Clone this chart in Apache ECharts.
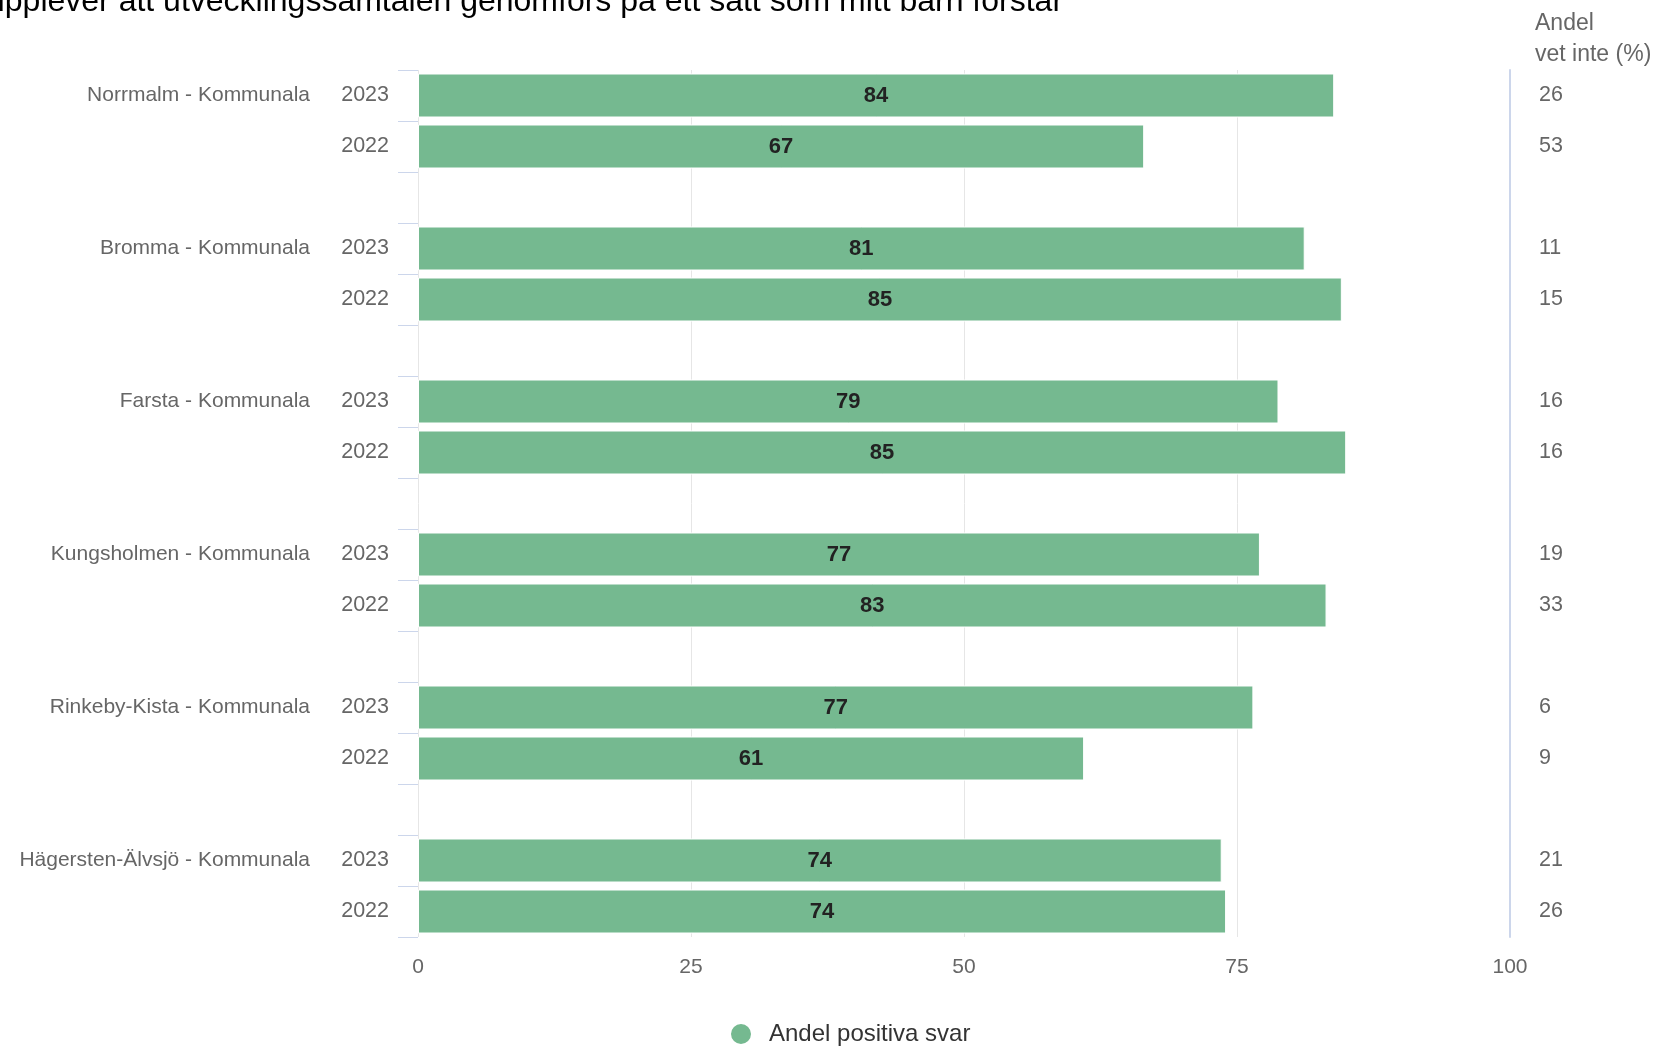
<!DOCTYPE html>
<html>
<head>
<meta charset="utf-8">
<script src="https://cdn.jsdelivr.net/npm/echarts@6/dist/echarts.min.js"></script>
<style>
html,body{margin:0;padding:0;background:#fff;}
#chart{width:1659px;height:1050px;}
</style>
</head>
<body>
<div id="chart"></div>
<script>
const titleText = 'upplever att utvecklingssamtalen genomförs på ett sätt som mitt barn förstår';
const sideHeader = 'Andel\nvet inte (%)';
const seriesName = 'Andel positiva svar';
const groups = ['Norrmalm - Kommunala', 'Bromma - Kommunala', 'Farsta - Kommunala', 'Kungsholmen - Kommunala', 'Rinkeby-Kista - Kommunala', 'Hägersten-Älvsjö - Kommunala'];
const years = ['2023', '2022'];
const positive2023 = [83.9, 81.2, 78.8, 77.1, 76.5, 73.6];
const positive2022 = [66.5, 84.6, 85.0, 83.2, 61.0, 74.0];
const vetInte2023 = [26, 11, 16, 19, 6, 21];
const vetInte2022 = [53, 15, 16, 33, 9, 26];
const xTickLabels = [0, 25, 50, 75, 100];

const rowKeys = [], rowYear = [], rowGroup = [], rowValue = [], rowVet = [];
groups.forEach(function (g, i) {
  years.forEach(function (y, j) {
    rowKeys.push(g + '|' + y);
    rowYear.push(y);
    rowGroup.push(j === 0 ? g : '');
    rowValue.push(j === 0 ? positive2023[i] : positive2022[i]);
    rowVet.push(String(j === 0 ? vetInte2023[i] : vetInte2022[i]));
  });
  if (i < groups.length - 1) {
    rowKeys.push('gap' + i);
    rowYear.push('');
    rowGroup.push('');
    rowValue.push('-');
    rowVet.push('');
  }
});

const FONT = "'Liberation Sans', Arial, Helvetica, sans-serif";
const chart = echarts.init(document.getElementById('chart'), null, {renderer: 'canvas'});
chart.setOption({
  backgroundColor: '#ffffff',
  animation: false,
  textStyle: {fontFamily: FONT},
  title: [
    {text: titleText, left: -13, top: -14, padding: 0,
     textStyle: {fontFamily: FONT, fontSize: 32, fontWeight: 'normal', color: '#000'}},
    {text: sideHeader, left: 1535, top: 8, padding: 0,
     textStyle: {fontFamily: FONT, fontSize: 23, fontWeight: 'normal', color: '#666', lineHeight: 31}}
  ],
  legend: {
    left: 729, top: 1022, padding: 0,
    icon: 'circle', itemWidth: 22, itemHeight: 22,
    textStyle: {fontFamily: FONT, fontSize: 24, color: '#333', padding: [0, 0, 0, 12]},
    data: [seriesName]
  },
  grid: {left: 418, right: 149, top: 70, bottom: 113, containLabel: false},
  xAxis: {
    type: 'value', min: xTickLabels[0], max: xTickLabels[xTickLabels.length - 1],
    interval: xTickLabels[1] - xTickLabels[0],
    axisLine: {show: false}, axisTick: {show: false},
    splitLine: {show: true, lineStyle: {color: '#e6e6e6', width: 1}},
    axisLabel: {fontFamily: FONT, fontSize: 21, color: '#666', margin: 20}
  },
  yAxis: [
    {
      type: 'category', inverse: true, position: 'left', data: rowKeys,
      axisLine: {show: false},
      axisTick: {show: true, length: 20, interval: 0, lineStyle: {color: '#ccd6eb', width: 1}},
      axisLabel: {interval: 0, margin: 29, fontFamily: FONT, fontSize: 21.5, color: '#666',
        padding: [5, 0, 0, 0],
        formatter: function (v, idx) { return rowYear[idx]; }},
      splitLine: {show: false}
    },
    {
      type: 'category', inverse: true, position: 'left', data: rowKeys,
      axisLine: {show: false}, axisTick: {show: false},
      axisLabel: {interval: 0, margin: 108, fontFamily: FONT, fontSize: 21, color: '#666',
        padding: [5, 0, 0, 0],
        formatter: function (v, idx) { return rowGroup[idx]; }},
      splitLine: {show: false}
    },
    {
      type: 'category', inverse: true, position: 'right', data: rowKeys,
      axisLine: {show: true, lineStyle: {color: '#ccd6eb', width: 2}},
      axisTick: {show: false},
      axisLabel: {interval: 0, margin: 29, fontFamily: FONT, fontSize: 21.5, color: '#666',
        padding: [5, 0, 0, 0],
        formatter: function (v, idx) { return rowVet[idx]; }},
      splitLine: {show: false}
    }
  ],
  series: [{
    name: seriesName, type: 'bar', yAxisIndex: 0,
    data: rowValue, barWidth: 44,
    itemStyle: {color: '#75b990', borderColor: '#ffffff', borderWidth: 1},
    label: {show: true, position: 'inside', fontFamily: FONT, fontSize: 22, fontWeight: 'bold', color: '#222',
      padding: [7, 0, 0, 0],
      formatter: function (p) { return Math.round(p.value); }},
    emphasis: {disabled: true}
  }]
});
</script>
</body>
</html>
